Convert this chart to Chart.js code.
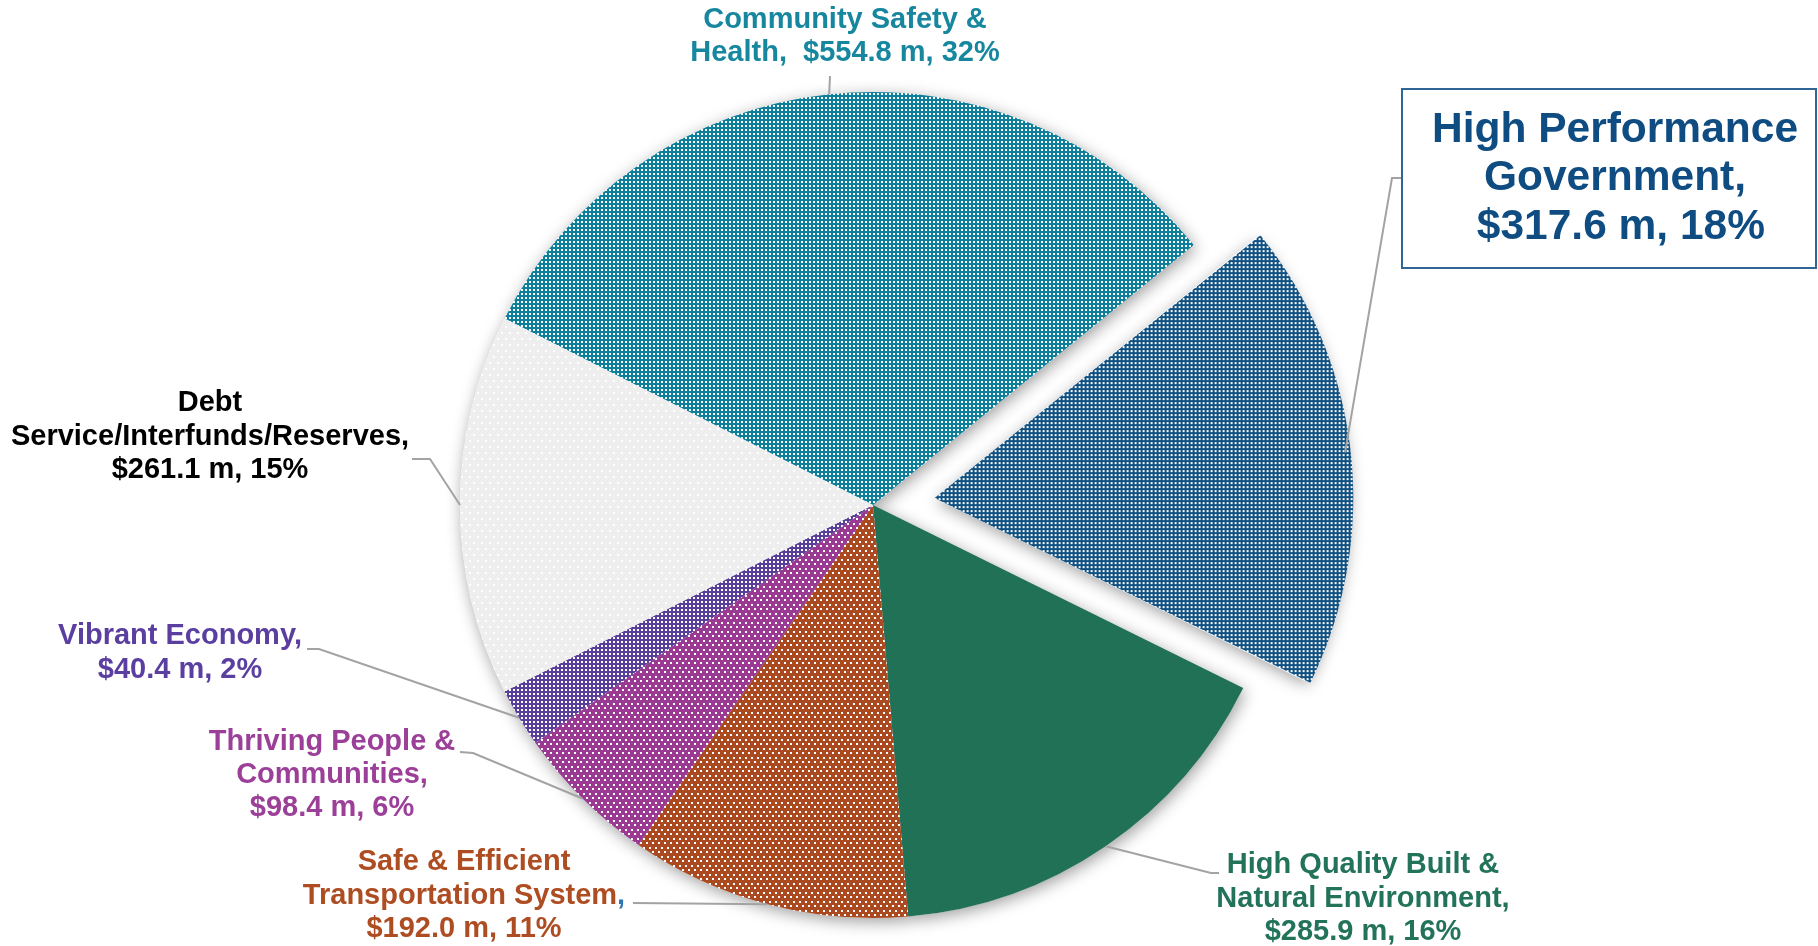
<!DOCTYPE html>
<html>
<head>
<meta charset="utf-8">
<script src="https://cdn.jsdelivr.net/npm/chart.js@4.4.1/dist/chart.umd.min.js"></script>
<style>
  html, body { margin: 0; padding: 0; background: #ffffff; }
  #wrap { width: 1818px; height: 946px; }
</style>
</head>
<body>
<div id="wrap"><canvas id="budgetPie" width="1818" height="946"></canvas></div>
<script>
// --- data (millions of dollars) ---
const categories = [
  'Community Safety & Health',
  'High Performance Government',
  'High Quality Built & Natural Environment',
  'Safe & Efficient Transportation System',
  'Thriving People & Communities',
  'Vibrant Economy',
  'Debt Service/Interfunds/Reserves'
];
const budgetMillions = [554.8, 317.6, 285.9, 192.0, 98.4, 40.4, 261.1];

// label text, {v} is replaced by "$x m, y%"
const labelLines = [
  ['Community Safety &', 'Health,  {v}'],
  ['High Performance', 'Government,', ' {v}'],
  ['High Quality Built &', 'Natural Environment,', '{v}'],
  ['Safe & Efficient', 'Transportation System,', '{v}'],
  ['Thriving People &', 'Communities,', '{v}'],
  ['Vibrant Economy,', '{v}'],
  ['Debt', 'Service/Interfunds/Reserves,', '{v}']
];
const explodedIndex = 1;

// --- look ---
const FONT = '"Liberation Sans", Arial, Helvetica, sans-serif';
const EXPLODE = 62;   // px the big slice is pulled out

const canvas = document.getElementById('budgetPie');
const ctx = canvas.getContext('2d');

// small tile with white dots, like the office "dotted" fills
function dotPattern(base, w, h, dots, size) {
  const c = document.createElement('canvas');
  c.width = w; c.height = h;
  const g = c.getContext('2d');
  g.fillStyle = base;
  g.fillRect(0, 0, w, h);
  g.fillStyle = '#ffffff';
  dots.forEach(([x, y]) => g.fillRect(x, y, size, size));
  return ctx.createPattern(c, 'repeat');
}
const dense = base => dotPattern(base, 4, 4, [[1, 1]], 2);
const medium = base => dotPattern(base, 6, 9, [[1, 1], [4, 5]], 2);
const sparse = base => dotPattern(base, 8, 12, [[1, 2], [5, 8]], 2);

const sliceFills = [
  dense('#0c809b'),
  dense('#0f5082'),
  '#217157',
  medium('#ab4a20'),
  medium('#9a3a93'),
  dense('#5a3e9b'),
  sparse('#eeeeee')
];

// where each label sits (centre x, first line centre y) and where its leader starts
const labelLayout = [
  { x: 845,  y: 20,  lh: 33,   size: 29,   color: '#17879f', from: [830, 76] },
  { x: 1615, y: 130, lh: 48.5, size: 42.5, color: '#0f4c81', from: [1402, 178], elbow: [1392, 178], box: [1402, 89, 414, 179] },
  { x: 1363, y: 865, lh: 33.5, size: 29,   color: '#22735a', from: [1219, 873], elbow: [1211, 873] },
  { x: 464,  y: 862, lh: 33.5, size: 29,   color: '#ae4d22', from: [633, 903], tail: '#2e75b6' },
  { x: 332,  y: 742, lh: 33,   size: 29,   color: '#9b3f98', from: [460, 752], elbow: [473, 753] },
  { x: 180,  y: 636, lh: 34,   size: 29,   color: '#5b3fa0', from: [307, 649], elbow: [319, 649] },
  { x: 210,  y: 403, lh: 33.5, size: 29,   color: '#000000', from: [412, 459], elbow: [430, 459] }
];

const total = budgetMillions.reduce((a, b) => a + b, 0);
function valueText(i) {
  const v = budgetMillions[i];
  return '$' + v.toFixed(1) + ' m, ' + Math.round(v / total * 100) + '%';
}

// geometry of an arc incl. the explode shift
function arcGeom(arc) {
  const p = arc.getProps(['x', 'y', 'startAngle', 'endAngle', 'outerRadius'], true);
  const t = (arc.options.offset || 0) / 4;
  const mid = (p.startAngle + p.endAngle) / 2;
  return { cx: p.x + Math.cos(mid) * t, cy: p.y + Math.sin(mid) * t, r: p.outerRadius, s: p.startAngle, e: p.endAngle, mid };
}

// soft shadow under the pie
const pieShadow = {
  id: 'pieShadow',
  beforeDatasetsDraw(chart) {
    const g = chart.ctx;
    g.save();
    g.shadowColor = 'rgba(0,0,0,0.38)';
    g.shadowBlur = 16;
    g.shadowOffsetX = 2;
    g.shadowOffsetY = 4;
    g.fillStyle = '#ffffff';
    chart.getDatasetMeta(0).data.forEach(arc => {
      const a = arcGeom(arc);
      g.beginPath();
      g.moveTo(a.cx, a.cy);
      g.arc(a.cx, a.cy, a.r, a.s, a.e);
      g.closePath();
      g.fill();
    });
    g.restore();
  }
};

// data labels with leader lines
const pieLabels = {
  id: 'pieLabels',
  afterDatasetsDraw(chart) {
    const g = chart.ctx;
    const arcs = chart.getDatasetMeta(0).data;
    g.save();
    arcs.forEach((arc, i) => {
      const a = arcGeom(arc);
      const L = labelLayout[i];
      const ax = a.cx + Math.cos(a.mid) * a.r;
      const ay = a.cy + Math.sin(a.mid) * a.r;

      g.strokeStyle = '#a3a3a3';
      g.lineWidth = 2;
      g.beginPath();
      g.moveTo(L.from[0], L.from[1]);
      if (L.elbow) g.lineTo(L.elbow[0], L.elbow[1]);
      g.lineTo(ax, ay);
      g.stroke();

      if (L.box) {
        g.fillStyle = '#ffffff';
        g.fillRect(L.box[0], L.box[1], L.box[2], L.box[3]);
        g.strokeStyle = '#2f6696';
        g.lineWidth = 2;
        g.strokeRect(L.box[0], L.box[1], L.box[2], L.box[3]);
      }

      g.font = 'bold ' + L.size + 'px ' + FONT;
      g.textBaseline = 'middle';
      labelLines[i].forEach((line, k) => {
        const txt = line.replace('{v}', valueText(i));
        const y = L.y + k * L.lh;
        if (L.tail && txt.endsWith(',')) {
          const head = txt.slice(0, -1);
          const w = g.measureText(txt).width;
          const left = L.x - w / 2;
          g.textAlign = 'left';
          g.fillStyle = L.color;
          g.fillText(head, left, y);
          g.fillStyle = L.tail;
          g.fillText(',', left + g.measureText(head).width, y);
        } else {
          g.textAlign = 'center';
          g.fillStyle = L.color;
          g.fillText(txt, L.x, y);
        }
      });
    });
    g.restore();
  }
};

new Chart(ctx, {
  type: 'pie',
  data: {
    labels: categories,
    datasets: [{
      data: budgetMillions,
      backgroundColor: sliceFills,
      borderWidth: 0,
      offset: budgetMillions.map((v, i) => i === explodedIndex ? EXPLODE * 4 : 0),
      hoverOffset: 0
    }]
  },
  options: {
    responsive: false,
    animation: false,
    devicePixelRatio: 1,
    rotation: -63.15,
    radius: 413,
    layout: { padding: { left: 0, right: 72, top: 64, bottom: 0 } },
    plugins: {
      legend: { display: false },
      tooltip: { enabled: false }
    }
  },
  plugins: [pieShadow, pieLabels]
});
</script>
</body>
</html>
